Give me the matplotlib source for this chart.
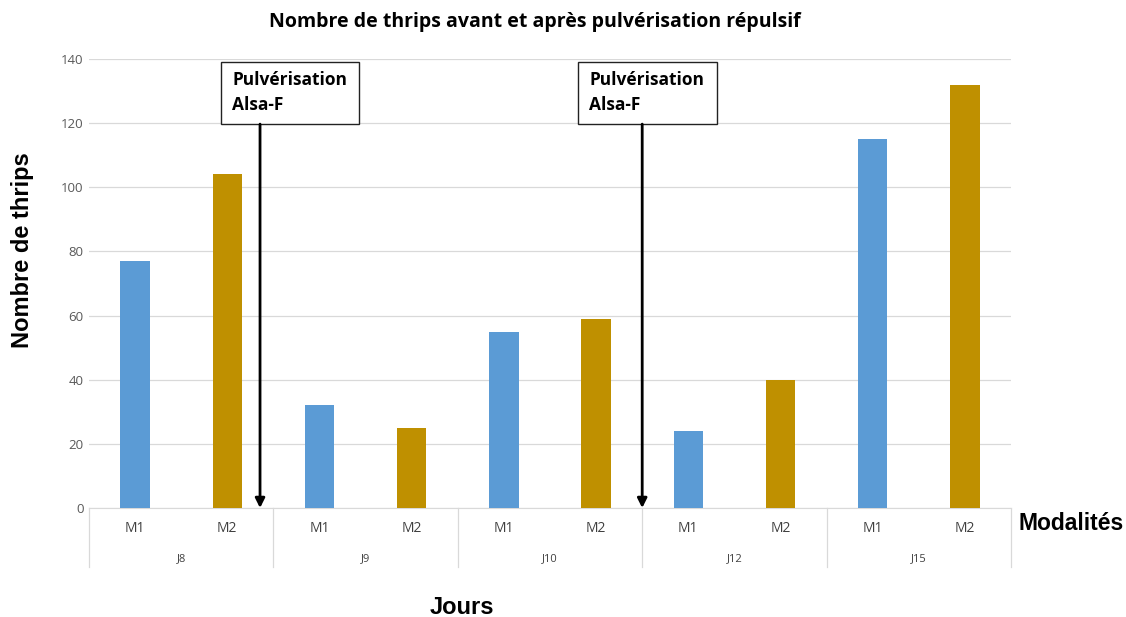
import matplotlib
matplotlib.use("Agg")
import matplotlib.pyplot as plt
from matplotlib.patches import Rectangle
import matplotlib.transforms as mtransforms

days = ["J8", "J9", "J10", "J12", "J15"]
modalities = ["M1", "M2"]
m1_values = [77, 32, 55, 24, 115]
m2_values = [104, 25, 59, 40, 132]
yticks = [0, 20, 40, 60, 80, 100, 120, 140]

title = "Nombre de thrips avant et après pulvérisation répulsif"
annot_text = "Pulvérisation\nAlsa-F"

blue = "#5B9BD5"
gold = "#BF9000"

fig = plt.figure(figsize=(11.26, 6.17), dpi=100)
ax = fig.add_axes([89/1126, 1-508/617, (1011-89)/1126, (508-59)/617])

n = len(days)
pos_m1 = [2*i for i in range(n)]
pos_m2 = [2*i + 1 for i in range(n)]
bw = 0.32
ax.bar(pos_m1, m1_values, width=bw, color=blue, zorder=3)
ax.bar(pos_m2, m2_values, width=bw, color=gold, zorder=3)

ax.set_xlim(-0.5, 2*n - 0.5)
ax.set_ylim(0, 140)
ax.set_yticks(yticks)
ax.set_yticklabels([str(t) for t in yticks], color="#595959", fontsize=9.5, family="Open Sans")
ax.tick_params(axis="y", length=0, pad=4)
ax.set_xticks([])
for s in ["top", "right", "left"]:
    ax.spines[s].set_visible(False)
ax.spines["bottom"].set_color("#d9d9d9")
ax.grid(axis="y", color="#d9d9d9", linewidth=0.9, zorder=0)
ax.set_axisbelow(True)

# category axis labels
trans = mtransforms.blended_transform_factory(ax.transData, ax.transAxes)
for i, d in enumerate(days):
    for j, m in enumerate(modalities):
        ax.text(2*i + j, -0.045, m, transform=trans, ha="center", va="center",
                fontsize=10, color="#404040", family="Open Sans")
    ax.text(2*i + 0.5, -0.112, d, transform=trans, ha="center", va="center",
            fontsize=8, color="#404040", family="Open Sans")
for k in range(n + 1):
    ax.plot([2*k - 0.5, 2*k - 0.5], [0, -0.132], transform=trans, color="#d9d9d9",
            linewidth=0.9, clip_on=False)

# annotations
annots = [(1.355, 0.932, 2.428), (5.5, 4.804, 6.311)]
box_bottom, box_top = 119.7, 139.0
for ax_x, bx0, bx1 in annots:
    ax.add_patch(Rectangle((bx0, box_bottom), bx1 - bx0, box_top - box_bottom,
                           facecolor="white", edgecolor="#222222", linewidth=1.0, zorder=5))
    ax.text(bx0 + 0.12, (box_bottom + box_top) / 2 + 0.3, annot_text, ha="left", va="center",
            fontsize=12.5, fontweight="bold", family="Open Sans", linespacing=1.5, zorder=6)
    ax.annotate("", xy=(ax_x, 0), xytext=(ax_x, box_bottom),
                arrowprops=dict(arrowstyle="-|>", color="black", lw=2.0,
                                mutation_scale=14, shrinkA=0, shrinkB=0), zorder=6)

fig.text(535/1126, 1-22/617, title, ha="center", va="center", fontsize=14,
         fontweight="bold", family="Open Sans")
fig.text(22/1126, 1-250/617, "Nombre de thrips", rotation=90, ha="center", va="center",
         fontsize=17, fontweight="bold", family="Liberation Sans")
fig.text(462/1126, 1-607/617, "Jours", ha="center", va="center",
         fontsize=17, fontweight="bold", family="Liberation Sans")
fig.text(1071/1126, 1-523/617, "Modalités", ha="center", va="center",
         fontsize=16.5, fontweight="bold", family="Liberation Sans")

fig.savefig("out.png", dpi=100)
